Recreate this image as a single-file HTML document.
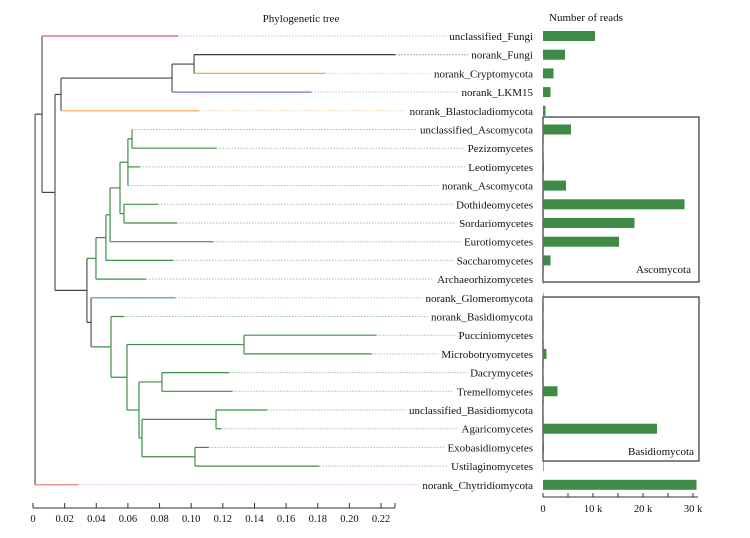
<!DOCTYPE html>
<html><head><meta charset="utf-8"><style>
body{margin:0;background:#fff}
svg{display:block;font-family:"Liberation Serif",serif}
</style></head><body>
<svg id="c" width="750" height="538"></svg>
<script>
const taxa=["unclassified_Fungi","norank_Fungi","norank_Cryptomycota","norank_LKM15","norank_Blastocladiomycota","unclassified_Ascomycota","Pezizomycetes","Leotiomycetes","norank_Ascomycota","Dothideomycetes","Sordariomycetes","Eurotiomycetes","Saccharomycetes","Archaeorhizomycetes","norank_Glomeromycota","norank_Basidiomycota","Pucciniomycetes","Microbotryomycetes","Dacrymycetes","Tremellomycetes","unclassified_Basidiomycota","Agaricomycetes","Exobasidiomycetes","Ustilaginomycetes","norank_Chytridiomycota"];
const tips=[0.0917,0.229,0.185,0.176,0.105,0.0626,0.116,0.0676,0.060,0.079,0.091,0.114,0.0885,0.0714,0.090,0.0575,0.217,0.214,0.124,0.126,0.148,0.119,0.111,0.181,0.0285];
const reads=[10.4,4.4,2.1,1.5,0.5,5.6,0.1,0.2,4.6,28.3,18.3,15.2,1.5,0,0.1,0.1,0,0.7,0,2.9,0,22.8,0.2,0,30.7];
const treeTicks=[0,0.02,0.04,0.06,0.08,0.10,0.12,0.14,0.16,0.18,0.20,0.22];
const readTicks=[0,5,10,15,20,25,30];
const readLabels=[0,10,20,30];
// internal nodes: name, depth, children (leaf indices as numbers, nodes as strings)
const nodes={
F:[0.1018,[1,2]],E:[0.0879,["F",3]],C:[0.0177,["E",4]],
O:[0.0626,[5,6]],N:[0.060,["O",7,8]],M:[0.0575,[9,10]],L:[0.055,["N","M"]],K:[0.0487,["L",11]],J:[0.0461,["K",12]],G:[0.0398,["J",13]],
R:[0.1334,[16,17]],T:[0.0815,[18,19]],V:[0.1157,[20,21]],W:[0.1024,[22,23]],U:[0.0689,["V","W"]],S:[0.067,["T","U"]],Q:[0.0594,["R","S"]],P:[0.0493,[15,"Q"]],H:[0.0367,[14,"P"]],
D:[0.0341,["G","H"]],B:[0.0139,["C","D"]],A:[0.0057,[0,"B"]],root:[0.0013,["A",24]]};
const leafCol=["#e0577a","#222","#f2a64e","#7b6fc0","#f2a64e"].concat(Array(9).fill("#3e8e47"),["#3a8fd0"],Array(9).fill("#3e8e47"),["#f07070"]);
const green=new Set(["O","N","M","L","K","J","G","R","T","V","W","U","S","Q","P"]);
const svg=document.getElementById('c');const NS="http://www.w3.org/2000/svg";
const X=v=>33+1582*v, Y=i=>36+i*18.7, BX=v=>543+5*v;
function el(t,a,p){const e=document.createElementNS(NS,t);for(const k in a)e.setAttribute(k,a[k]);(p||svg).appendChild(e);return e;}
function yOf(c){return typeof c==="number"?Y(c):nodeY(c);}
const ny={};function nodeY(n){if(ny[n]!=null)return ny[n];const ch=nodes[n][1];return ny[n]=(yOf(ch[0])+yOf(ch[ch.length-1]))/2;}
function xOf(c){return typeof c==="number"?tips[c]:nodes[c][0];}
// labels
const lab=[];
taxa.forEach((t,i)=>{const e=el('text',{x:533,y:Y(i)+4,'text-anchor':'end','font-size':11,fill:'#111'});e.textContent=t;

lab.push(e);});
// leaf branches
taxa.forEach((t,i)=>{let end=533-lab[i].getComputedTextLength()-3;
const d=el('line',{x1:X(tips[i]),x2:end,y1:Y(i),y2:Y(i),stroke:leafCol[i],'stroke-width':1,'stroke-dasharray':'1.5,1.5',opacity:0.5});

});
// nodes
for(const n in nodes){const [x,ch]=nodes[n];const col=green.has(n)?"#3e8e47":"#555";
const y1=yOf(ch[0]),y2=yOf(ch[ch.length-1]);
const v=el('line',{x1:X(x),x2:X(x),y1:y1,y2:y2,stroke:col,'stroke-width':1.2});


ch.forEach(c=>{const cc=typeof c==="number"?leafCol[c]:(green.has(c)?"#3e8e47":"#444");
const h=el('line',{x1:X(x),x2:X(xOf(c)),y1:yOf(c),y2:yOf(c),stroke:cc,'stroke-width':1.2});

});}
// tree axis
el('line',{x1:X(0),x2:395,y1:508,y2:508,stroke:'#333'});
treeTicks.forEach(t=>{el('line',{x1:X(t),x2:X(t),y1:503,y2:508,stroke:'#333'});
const e=el('text',{x:X(t),y:522,'text-anchor':'middle','font-size':10.5,fill:'#111'});e.textContent=t===0?"0":t.toFixed(2);

});
el('line',{x1:395,x2:395,y1:503,y2:508,stroke:'#333'});
// titles
let t1=el('text',{x:301,y:22,'text-anchor':'middle','font-size':11,fill:'#111'});t1.textContent="Phylogenetic tree";


let t2=el('text',{x:586,y:21,'text-anchor':'middle','font-size':11,fill:'#111'});t2.textContent="Number of reads";


// boxes
const b1=el('rect',{x:543,y:117,width:156,height:165,fill:'none',stroke:'#333','stroke-width':1.2});


const b2=el('rect',{x:543,y:297,width:156,height:164,fill:'none',stroke:'#333','stroke-width':1.2});


let l1=el('text',{x:691,y:273,'text-anchor':'end','font-size':11,fill:'#111'});l1.textContent="Ascomycota";


let l2=el('text',{x:694,y:455,'text-anchor':'end','font-size':11,fill:'#111'});l2.textContent="Basidiomycota";


// bars
reads.forEach((r,i)=>{const b=el('rect',{x:BX(0),y:Y(i)-5,width:Math.max(BX(r)-BX(0),0.6),height:10,fill:'#3f8a45'});

});
// reads axis
el('line',{x1:BX(0),x2:BX(31),y1:497,y2:497,stroke:'#333'});
readTicks.forEach(t=>{el('line',{x1:BX(t),x2:BX(t),y1:493,y2:497,stroke:'#333'});});
readLabels.forEach(t=>{const e=el('text',{x:BX(t),y:512,'text-anchor':'middle','font-size':10.5,fill:'#111'});e.textContent=t===0?"0":t+" k";

});
</script>
</body></html>
